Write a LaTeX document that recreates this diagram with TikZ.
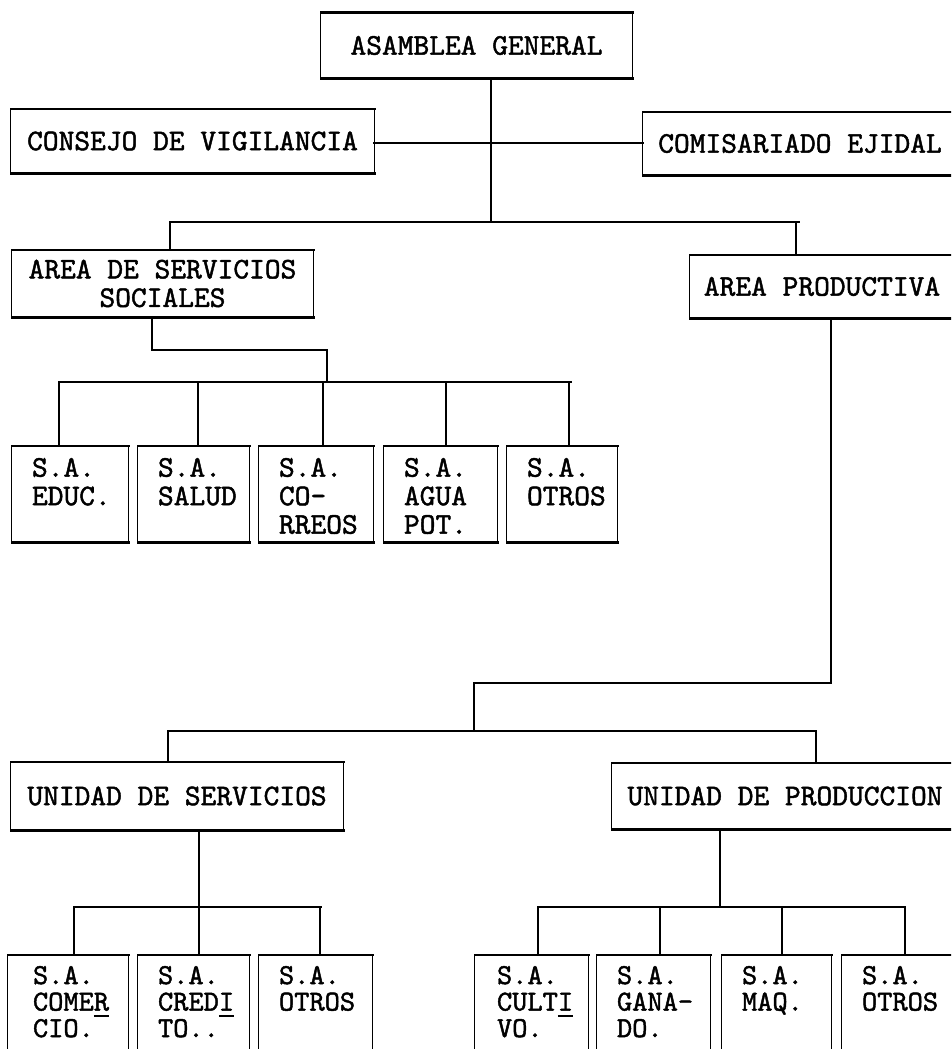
\documentclass[tikz,border=0pt]{standalone}
\usepackage{fontspec}
\usetikzlibrary{calc}
\newfontfamily\twfont{lmmono10-regular.otf}[FakeBold=1.5]
\newcommand\tw{\fontsize{30}{28.5}\selectfont\twfont}
\newcommand\twb{\fontsize{29}{26.5}\selectfont\twfont}
\newcommand\tul[1]{\rlap{\rule[-6pt]{0.525em}{2pt}}#1}
\tikzset{
  bx/.style={inner sep=0pt, draw=none, font=\tw, align=center},
  hl/.style={line width=2.6pt, line cap=rect},
  vl/.style={line width=1.3pt},
  txt/.style={inner sep=0pt, align=left, anchor=north west, font=\tw},
  txtb/.style={txt, font=\twb}
}
% name, x1, y1, x2, y2, text
\newcommand\orgbox[6]{%
  \node[bx, minimum width={#4-#2}, minimum height={#5-#3}] (#1) at ({(#2+#4)/2},{(#3+#5)/2}) {#6};
  \draw[hl] (#1.north west) -- (#1.north east) (#1.south west) -- (#1.south east);
  \draw[vl] (#1.north west) -- (#1.south west) (#1.north east) -- (#1.south east);
}
\newcommand\satext[2]{\node[txt] (#1t) at ($(#1.north west)+(20,12)$) {#2};}
\begin{document}
\begin{tikzpicture}[x=1pt,y=-1pt]
\useasboundingbox (0,0) rectangle (951,1049);
\fill[white] (0,0) rectangle (951,1049);
\clip (0,0) rectangle (951,1049);

% main boxes
\orgbox{asam}{321}{13}{632}{78}{ASAMBLEA GENERAL}
\orgbox{consejo}{11}{109}{374}{173}{CONSEJO DE VIGILANCIA}
\orgbox{comis}{643}{112}{957}{175}{COMISARIADO EJIDAL}
\orgbox{area1}{12}{250}{313}{317}{AREA DE SERVICIOS\\SOCIALES}
\orgbox{areaprod}{690}{255}{954}{318}{AREA PRODUCTIVA}
\orgbox{us}{11}{762}{343}{830}{UNIDAD DE SERVICIOS}
\orgbox{up}{612}{763}{958}{829}{UNIDAD DE PRODUCCION}

% S.A. boxes, upper row
\orgbox{sa1}{12}{446}{128}{542}{}
\orgbox{sa2}{138}{446}{249}{542}{}
\orgbox{sa3}{259}{446}{373}{542}{}
\orgbox{sa4}{384}{446}{497}{542}{}
\orgbox{sa5}{507}{446}{617}{542}{}
\satext{sa1}{S.A.\\EDUC.}
\satext{sa2}{S.A.\\SALUD}
\satext{sa3}{S.A.\\CO-\\RREOS}
\satext{sa4}{S.A.\\AGUA\\POT.}
\satext{sa5}{S.A.\\OTROS}

% S.A. boxes, lower row
\orgbox{sb1}{8}{955}{128}{1080}{}
\orgbox{sb2}{138}{955}{249}{1080}{}
\orgbox{sb3}{259}{955}{372}{1080}{}
\orgbox{sb4}{475}{955}{588}{1080}{}
\orgbox{sb5}{597}{955}{710}{1080}{}
\orgbox{sb6}{722}{955}{831}{1080}{}
\orgbox{sb7}{842}{955}{962}{1080}{}
\node[txtb] (sb1t) at ($(sb1.north west)+(25,11)$) {S.A.\\COME\tul{R}\\CIO.};
\node[txtb] (sb2t) at ($(sb2.north west)+(20,11)$) {S.A.\\CRED\tul{I}\\TO..};
\node[txtb] (sb3t) at ($(sb3.north west)+(20,11)$) {S.A.\\OTROS};
\node[txtb] (sb4t) at ($(sb4.north west)+(22,11)$) {S.A.\\CULT\tul{I}\\VO.};
\node[txtb] (sb5t) at ($(sb5.north west)+(20,11)$) {S.A.\\GANA-\\DO.};
\node[txtb] (sb6t) at ($(sb6.north west)+(20,11)$) {S.A.\\MAQ.};
\node[txtb] (sb7t) at ($(sb7.north west)+(20,11)$) {S.A.\\OTROS};

% connectors: top
\coordinate (t1) at (491,222);
\coordinate (j1) at (491,143);
\draw[vl] (asam.south -| t1) -- (t1);
\draw[hl] (consejo.east |- j1) -- (comis.west |- j1);
\coordinate (b1l) at (170,222);
\coordinate (b1r) at (799,222);
\coordinate (b1d) at (796,222);
\draw[hl] (b1l) -- (b1r);
\draw[vl] (b1l) -- (b1l |- area1.north);
\draw[vl] (b1d) -- (b1d |- areaprod.north);

% area de servicios sociales -> S.A.
\coordinate (c1) at (152,350);
\coordinate (c2) at (327,350);
\coordinate (b2c) at (327,382);
\draw[vl] (c1 |- area1.south) -- (c1);
\draw[hl] (c1) -- (c2);
\draw[vl] (c2) -- (b2c);
\coordinate (b2l) at (59,382);
\coordinate (b2r) at (571,382);
\draw[hl] (b2l) -- (b2r);
\foreach \n/\x in {sa1/59, sa2/198, sa3/323, sa4/446, sa5/569}
  \draw[vl] (\x,382) coordinate (tmp) -- (tmp |- \n.north);

% area productiva -> unidades
\coordinate (d1) at (831,683);
\coordinate (d2) at (474,683);
\coordinate (b3c) at (474,731);
\draw[vl] (d1 |- areaprod.south) -- (d1);
\draw[hl] (d1) -- (d2);
\draw[vl] (d2) -- (b3c);
\coordinate (b3l) at (168,731);
\coordinate (b3r) at (816,731);
\draw[hl] (b3l) -- (b3r);
\draw[vl] (b3l) -- (b3l |- us.north);
\draw[vl] (b3r) -- (b3r |- up.north);

% unidad de servicios -> S.A.
\coordinate (e1) at (199,907);
\draw[vl] (e1 |- us.south) -- (e1);
\coordinate (b4l) at (74,907);
\coordinate (b4r) at (321,907);
\draw[hl] (b4l) -- (b4r);
\foreach \n/\x in {sb1/74, sb2/199, sb3/320}
  \draw[vl] (\x,907) coordinate (tmp) -- (tmp |- \n.north);

% unidad de produccion -> S.A.
\coordinate (f1) at (720,907);
\draw[vl] (f1 |- up.south) -- (f1);
\coordinate (b5l) at (538,907);
\coordinate (b5r) at (905,907);
\draw[hl] (b5l) -- (b5r);
\foreach \n/\x in {sb4/538, sb5/660, sb6/782, sb7/905}
  \draw[vl] (\x,907) coordinate (tmp) -- (tmp |- \n.north);
\end{tikzpicture}
\end{document}
